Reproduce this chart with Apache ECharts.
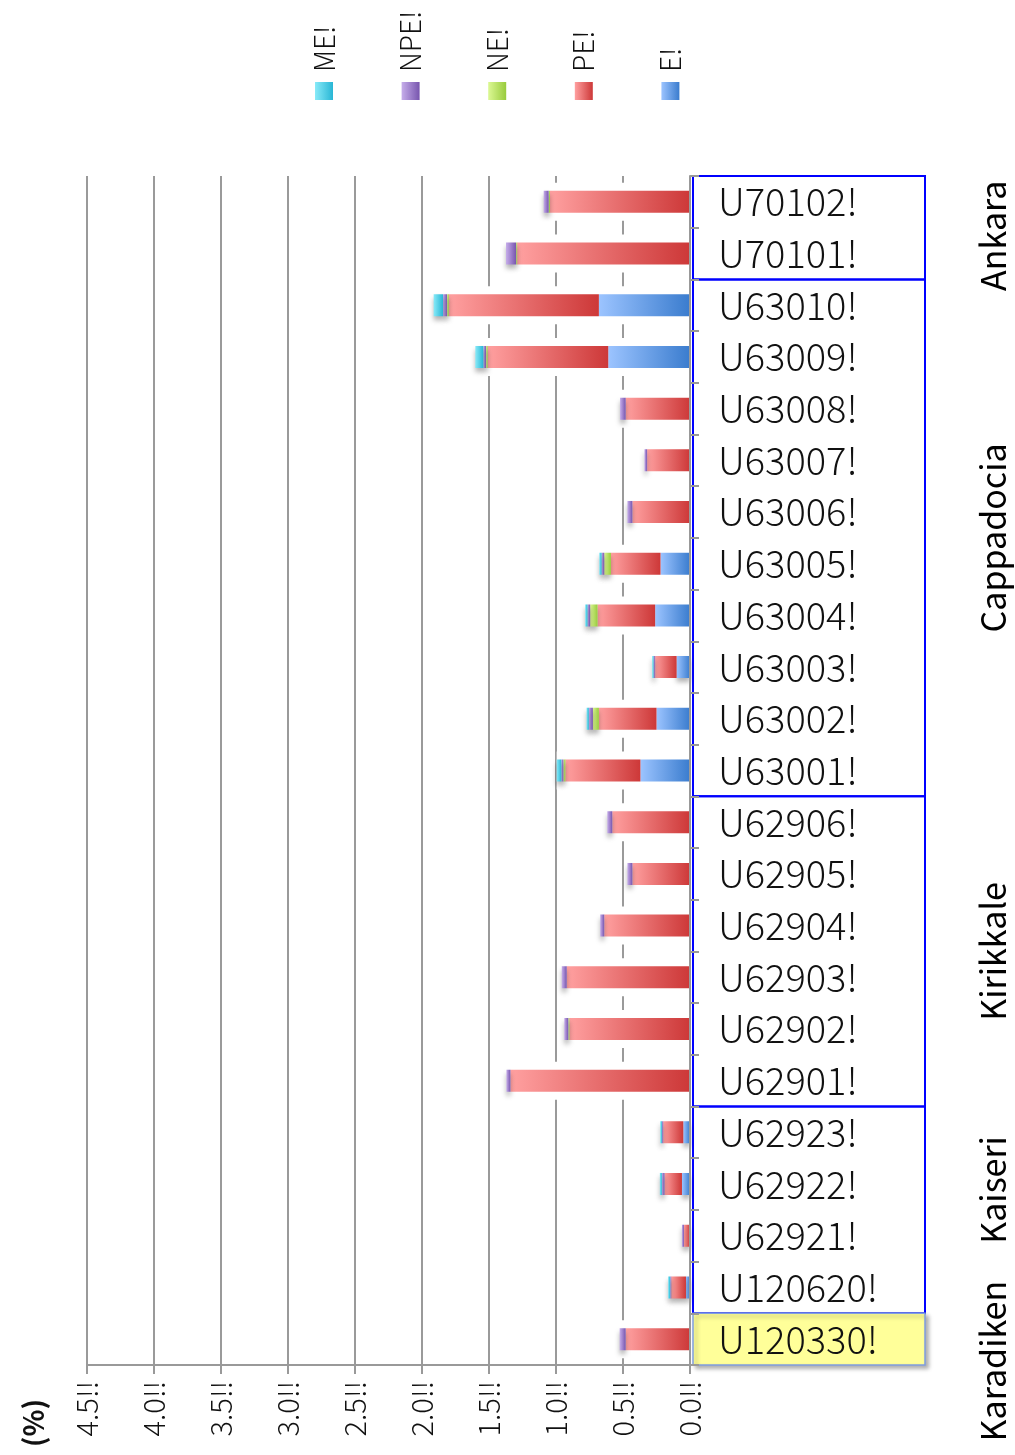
<!DOCTYPE html>
<html lang="en">
<head>
<meta charset="UTF-8">
<title>chart</title>
<script src="https://cdn.jsdelivr.net/npm/echarts@6/dist/echarts.min.js"></script>
<style>
    html, body { margin: 0; padding: 0; background: #fff; }
    #main { width: 1015px; height: 1455px; }
</style>
</head>
<body>
<div id="main"></div>
<script>
// categories top -> bottom
var categories = ['U70102!', 'U70101!', 'U63010!', 'U63009!', 'U63008!', 'U63007!', 'U63006!', 'U63005!',
    'U63004!', 'U63003!', 'U63002!', 'U63001!', 'U62906!', 'U62905!', 'U62904!', 'U62903!', 'U62902!',
    'U62901!', 'U62923!', 'U62922!', 'U62921!', 'U120620!', 'U120330!'];

var regions = ['Ankara', 'Cappadocia', 'Kirikkale', 'Kaiseri', 'Karadiken'];
var regionSizes = [2, 10, 6, 4, 1];

// stacked from the axis outward: E, PE, NE, NPE, ME
var valE   = [0, 0, 0.68, 0.61, 0, 0, 0, 0.22, 0.26, 0.10, 0.25, 0.37, 0, 0, 0, 0, 0, 0, 0.05, 0.06, 0, 0.03, 0];
var valPE  = [1.045, 1.29, 1.12, 0.90, 0.48, 0.32, 0.43, 0.37, 0.43, 0.16, 0.43, 0.56, 0.58, 0.43, 0.64, 0.92, 0.90, 1.34, 0.15, 0.13, 0.045, 0.11, 0.48];
var valNE  = [0.01, 0.008, 0.013, 0.012, 0, 0, 0, 0.05, 0.055, 0, 0.045, 0.015, 0, 0, 0, 0, 0.008, 0, 0, 0, 0, 0, 0];
var valNPE = [0.037, 0.075, 0.03, 0.02, 0.042, 0.02, 0.037, 0.02, 0.02, 0.012, 0.03, 0.015, 0.037, 0.037, 0.03, 0.037, 0.03, 0.03, 0.01, 0.02, 0.015, 0.008, 0.045];
var valME  = [0, 0, 0.07, 0.06, 0, 0, 0, 0.017, 0.017, 0.01, 0.017, 0.035, 0, 0, 0, 0, 0, 0, 0.012, 0.015, 0, 0.015, 0];

var seriesNames = ['E!', 'PE!', 'NE!', 'NPE!', 'ME!'];
var seriesValues = [valE, valPE, valNE, valNPE, valME];
var seriesColors = [['#9cc4ff', '#3a7cce'], ['#ffa0a0', '#cd3838'], ['#dcf894', '#98cb3c'],
    ['#c6adea', '#7755ae'], ['#88eaf8', '#28b6d5']];
var legendOrder = ['ME!', 'NPE!', 'NE!', 'PE!', 'E!'];

var axisMax = 4.5, axisStep = 0.5;
var FONT = '"Noto Sans CJK JP", "Noto Sans", sans-serif';
var regionShift = [8, 0, 0, -20, 22];   // nudges for the rotated region names

function grad(c) {
    return new echarts.graphic.LinearGradient(0, 0, 1, 0, [
        {offset: 0, color: c[0]}, {offset: 1, color: c[1]}
    ]);
}

var totals = categories.map(function (c, i) {
    return seriesValues.reduce(function (s, arr) { return s + arr[i]; }, 0);
});

var series = [{
    // white halo behind each bar, it cuts the grid lines like the original
    type: 'bar', name: 'halo', yAxisIndex: 1, barWidth: 38, z: 2, silent: true,
    itemStyle: {color: '#fff'}, data: totals
}];
seriesNames.forEach(function (n, i) {
    series.push({
        type: 'bar', name: n, stack: 'all', barWidth: 22, z: 3,
        itemStyle: {
            color: grad(seriesColors[i]),
            shadowColor: 'rgba(0,0,0,0.3)', shadowBlur: 5, shadowOffsetY: 4
        },
        data: seriesValues[i]
    });
});

var myChart = echarts.init(document.getElementById('main'));
var option = {
    animation: false,
    grid: {left: 87, right: 325, top: 176, bottom: 90},
    xAxis: {
        type: 'value', inverse: true, min: 0, max: axisMax, interval: axisStep, z: 0,
        axisLine: {show: true, lineStyle: {color: '#999', width: 2}},
        axisTick: {show: true, length: 9, lineStyle: {color: '#999', width: 2}},
        splitLine: {show: true, lineStyle: {color: '#9a9a9a', width: 2}},
        axisLabel: {
            rotate: 90, margin: 16, fontSize: 29, color: '#111', fontFamily: FONT, fontWeight: 300,
            formatter: function (v) { return v.toFixed(1) + '!!'; }
        }
    },
    yAxis: [{
        type: 'category', data: categories, inverse: true, position: 'right', z: 10,
        axisLine: {show: true, lineStyle: {color: '#999', width: 2}},
        axisTick: {show: true, length: 9, lineStyle: {color: '#999', width: 2}},
        axisLabel: {interval: 0, margin: 28, fontSize: 38, fontWeight: 300, color: '#111',
            fontFamily: FONT, align: 'left', verticalAlign: 'middle', lineHeight: 38,
            padding: [0, 0, 10, 0]}
    }, {
        type: 'category', data: categories, inverse: true, show: false
    }],
    series: series
};
myChart.setOption(option);

// group boxes, region names and the legend
var pos = categories.map(function (c) { return myChart.convertToPixel({yAxisIndex: 0}, c); });
var band = pos[1] - pos[0];
var boxLeft = 693, boxWidth = 232;
var graphics = [];
var start = 0;
regions.forEach(function (r, gi) {
    var end = start + regionSizes[gi] - 1;
    var y0 = pos[start] - band / 2, y1 = pos[end] + band / 2;
    var last = gi === regions.length - 1;
    graphics.push({
        type: 'rect', z: 1,
        shape: {x: boxLeft, y: y0, width: boxWidth, height: y1 - y0},
        style: last ? {fill: '#ffff99', stroke: '#7f9de0', lineWidth: 1.5,
            shadowBlur: 4, shadowOffsetX: 3, shadowOffsetY: 3, shadowColor: 'rgba(0,0,0,0.3)'}
            : {fill: null, stroke: '#0000ff', lineWidth: 2}
    });
    graphics.push({
        type: 'text', z: 1, x: 993, y: (y0 + y1) / 2 + regionShift[gi], rotation: Math.PI / 2,
        style: {text: r, font: '34px ' + FONT, fill: '#000', align: 'center', verticalAlign: 'middle'}
    });
    start = end + 1;
});

legendOrder.forEach(function (n, i) {
    var idx = seriesNames.indexOf(n);
    var cx = 324 + i * 86.6;
    graphics.push({
        type: 'rect', shape: {x: cx - 9, y: 82, width: 18, height: 18},
        style: {fill: grad(seriesColors[idx])}
    });
    graphics.push({
        type: 'text', x: cx, y: 72, rotation: Math.PI / 2,
        style: {text: n, font: '300 28px ' + FONT, fill: '#111', align: 'left', verticalAlign: 'middle'}
    });
});

graphics.push({
    type: 'text', x: 33, y: 1447, rotation: Math.PI / 2,
    style: {text: '(%)', font: 'bold 28px ' + FONT, fill: '#111', align: 'left', verticalAlign: 'middle'}
});

myChart.setOption({graphic: graphics});
</script>
</body>
</html>
